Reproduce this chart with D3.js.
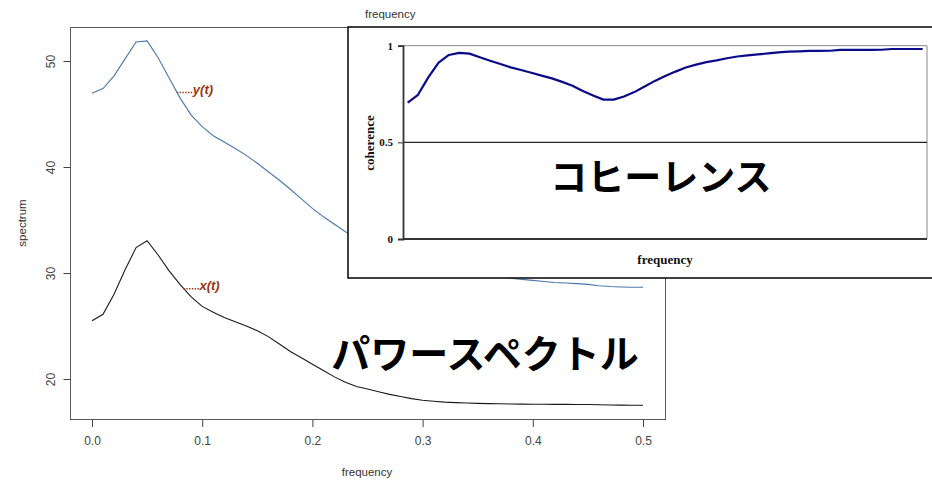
<!DOCTYPE html>
<html>
<head>
<meta charset="utf-8">
<script src="https://cdn.jsdelivr.net/npm/d3@7"></script>
<style>
  html, body { margin: 0; padding: 0; background: #fff; }
  svg { display: block; }
</style>
</head>
<body>
<svg id="chart" width="932" height="481"></svg>
<script>
// Frequency grid shared by both spectra and the coherence (0 .. 0.5, step 0.01)
const frequencies = d3.range(0, 51).map(i => +(i * 0.01).toFixed(2));

// Power spectrum of y(t)
const spectrumY = [
  46.95, 47.4, 48.6, 50.2, 51.8, 51.9, 50.3, 48.4, 46.5, 44.9,
  43.8, 42.95, 42.35, 41.75, 41.1, 40.35, 39.55, 38.75, 37.9, 37.0,
  36.1, 35.3, 34.6, 33.9, 33.3, 32.8, 32.3, 31.9, 31.5, 31.2,
  30.9, 30.6, 30.4, 30.2, 30.0, 29.85, 29.7, 29.6, 29.5, 29.4,
  29.3, 29.2, 29.1, 29.05, 29.0, 28.93, 28.8, 28.72, 28.68, 28.66,
  28.65
];

// Power spectrum of x(t)
const spectrumX = [
  25.5, 26.1, 28.0, 30.3, 32.4, 33.05, 31.7, 30.2, 28.9, 27.75,
  26.85, 26.3, 25.8, 25.4, 25.0, 24.55, 24.0, 23.3, 22.6, 22.0,
  21.4, 20.8, 20.2, 19.7, 19.3, 19.05, 18.8, 18.55, 18.35, 18.15,
  18.0, 17.9, 17.82, 17.77, 17.73, 17.7, 17.68, 17.66, 17.64, 17.63,
  17.62, 17.62, 17.61, 17.61, 17.6, 17.59, 17.57, 17.55, 17.54, 17.53,
  17.52
];

// Squared coherence between x(t) and y(t)
const coherence = [
  0.705, 0.746, 0.836, 0.912, 0.952, 0.963, 0.959, 0.940, 0.922, 0.905,
  0.888, 0.874, 0.860, 0.845, 0.831, 0.813, 0.793, 0.766, 0.742, 0.721,
  0.721, 0.737, 0.760, 0.789, 0.818, 0.843, 0.866, 0.887, 0.902, 0.915,
  0.924, 0.935, 0.944, 0.950, 0.955, 0.960, 0.965, 0.969, 0.971, 0.973,
  0.973, 0.974, 0.978, 0.978, 0.978, 0.978, 0.979, 0.983, 0.983, 0.983,
  0.983
];

const freqTicks = [0, 0.1, 0.2, 0.3, 0.4, 0.5];
const freqTickLabels = ["0.0", "0.1", "0.2", "0.3", "0.4", "0.5"];
const spectrumTicks = [20, 30, 40, 50];
const coherenceTicks = [0, 0.5, 1];
const coherenceTickLabels = ["0", "0.5", "1"];

const seriesLabels = [
  { name: "y(t)", values: spectrumY, at: 0.077, color: "#4a78ad" },
  { name: "x(t)", values: spectrumX, at: 0.083, color: "#1a1a1a" }
];

const svg = d3.select("#chart");
const sans = "'Liberation Sans', Arial, sans-serif";
const serif = "'Liberation Serif', 'Times New Roman', serif";
const cjk = "'Noto Sans CJK JP', 'Noto Sans', sans-serif";
const labelRed = "#9a3612";

// ---------- Main plot: power spectra ----------
const box = { left: 70, right: 665, top: 27, bottom: 419 };
const x = d3.scaleLinear().domain([0, 0.5]).range([92, 643]);
const y = d3.scaleLinear().domain([20, 50]).range([379, 61]);

const main = svg.append("g");

main.append("rect")
  .attr("x", box.left + 0.5).attr("y", box.top + 0.5)
  .attr("width", box.right - box.left).attr("height", box.bottom - box.top)
  .attr("fill", "none").attr("stroke", "#5a5a5a").attr("stroke-width", 1);

// left axis
const yAxis = d3.axisLeft(y).tickValues(spectrumTicks).tickSize(7).tickPadding(8);
const gy = main.append("g").attr("transform", `translate(${box.left + 0.5},0)`).call(yAxis);
gy.select(".domain").remove();
gy.selectAll(".tick line").attr("stroke", "#444");
gy.selectAll(".tick text")
  .attr("font-family", sans).attr("font-size", 12).attr("fill", "#444")
  .attr("text-anchor", "middle")
  .attr("transform", "rotate(-90)")
  .attr("x", 0).attr("y", -20).attr("dy", "0.35em");

// bottom axis
const xAxis = d3.axisBottom(x).tickValues(freqTicks)
  .tickFormat((d, i) => freqTickLabels[i]).tickSize(7).tickPadding(9);
const gx = main.append("g").attr("transform", `translate(0,${box.bottom + 1})`).call(xAxis);
gx.select(".domain").remove();
gx.selectAll(".tick line").attr("stroke", "#444");
gx.selectAll(".tick text").attr("font-family", sans).attr("font-size", 12).attr("fill", "#444");

main.append("text")
  .attr("x", 367).attr("y", 476)
  .attr("text-anchor", "middle")
  .attr("font-family", sans).attr("font-size", 11.5).attr("fill", "#333")
  .text("frequency");

main.append("text")
  .attr("transform", "translate(26,223) rotate(-90)")
  .attr("text-anchor", "middle")
  .attr("font-family", sans).attr("font-size", 11.5).attr("fill", "#333")
  .text("spectrum");

const specLine = vals => d3.line()
  .x((d, i) => x(frequencies[i]))
  .y(d => y(d))(vals);

seriesLabels.forEach(s => {
  main.append("path")
    .attr("d", specLine(s.values))
    .attr("fill", "none")
    .attr("stroke", s.color)
    .attr("stroke-width", 1.1);
});

// leader + series names
seriesLabels.forEach(s => {
  const i0 = Math.floor(s.at / 0.01);
  const t = (s.at - frequencies[i0]) / 0.01;
  const v = s.values[i0] + t * (s.values[i0 + 1] - s.values[i0]);
  const px = x(s.at), py = y(v);
  main.append("line")
    .attr("x1", px).attr("x2", px + 16)
    .attr("y1", py + 0.5).attr("y2", py + 0.5)
    .attr("stroke", labelRed).attr("stroke-width", 1.4)
    .attr("stroke-dasharray", "1.4,1.4");
  main.append("text")
    .attr("x", px + 16).attr("y", py + 2)
    .attr("font-family", sans).attr("font-size", 13)
    .attr("font-weight", "bold").attr("font-style", "italic")
    .attr("fill", labelRed)
    .text(s.name);
});

main.append("text")
  .attr("x", 485).attr("y", 368)
  .attr("text-anchor", "middle")
  .attr("font-family", cjk).attr("font-weight", "bold").attr("font-size", 39)
  .attr("fill", "#000")
  .text("パワースペクトル");

// ---------- Inset: coherence ----------
const inset = svg.append("g");

inset.append("text")
  .attr("x", 365).attr("y", 18)
  .attr("font-family", sans).attr("font-size", 11.5).attr("fill", "#333")
  .text("frequency");

inset.append("rect")
  .attr("x", 348).attr("y", 27)
  .attr("width", 620).attr("height", 251)
  .attr("fill", "#fff").attr("stroke", "#111").attr("stroke-width", 1.6);

const cx = d3.scaleLinear().domain([0, 0.5]).range([407.7, 922.7]);
const cy = d3.scaleLinear().domain([0, 1]).range([239, 45.7]);
const plot = { left: 403, right: 927 };

// plot frame (top and right in grey)
inset.append("path")
  .attr("d", `M${plot.left},${cy(1)}H${plot.right}V${cy(0)}`)
  .attr("fill", "none").attr("stroke", "#888").attr("stroke-width", 1);

// reference line at 0.5
inset.append("line")
  .attr("x1", plot.left).attr("x2", plot.right)
  .attr("y1", cy(0.5)).attr("y2", cy(0.5))
  .attr("stroke", "#222").attr("stroke-width", 1.2);

// x axis line
inset.append("line")
  .attr("x1", plot.left).attr("x2", plot.right)
  .attr("y1", cy(0)).attr("y2", cy(0))
  .attr("stroke", "#333").attr("stroke-width", 2.2);

const cAxis = d3.axisLeft(cy).tickValues(coherenceTicks)
  .tickFormat((d, i) => coherenceTickLabels[i]).tickSize(5).tickPadding(5);
const gc = inset.append("g").attr("transform", `translate(${plot.left},0)`).call(cAxis);
gc.select(".domain").attr("stroke", "#333").attr("stroke-width", 1.8);
gc.selectAll(".tick line").attr("stroke", "#333");
gc.selectAll(".tick text")
  .attr("font-family", serif).attr("font-weight", "bold").attr("font-size", 11).attr("fill", "#111");

inset.append("text")
  .attr("transform", "translate(374,143) rotate(-90)")
  .attr("text-anchor", "middle")
  .attr("font-family", serif).attr("font-weight", "bold").attr("font-size", 13).attr("fill", "#111")
  .text("coherence");

inset.append("text")
  .attr("x", 665).attr("y", 264)
  .attr("text-anchor", "middle")
  .attr("font-family", serif).attr("font-weight", "bold").attr("font-size", 13).attr("fill", "#111")
  .text("frequency");

inset.append("path")
  .attr("d", d3.line().x((d, i) => cx(frequencies[i])).y(d => cy(d))(coherence))
  .attr("fill", "none").attr("stroke", "#0a0a8a").attr("stroke-width", 2.2)
  .attr("stroke-linejoin", "round");

inset.append("text")
  .attr("x", 661).attr("y", 191)
  .attr("text-anchor", "middle")
  .attr("font-family", cjk).attr("font-weight", "bold").attr("font-size", 37)
  .attr("fill", "#000")
  .text("コヒーレンス");
</script>
</body>
</html>
